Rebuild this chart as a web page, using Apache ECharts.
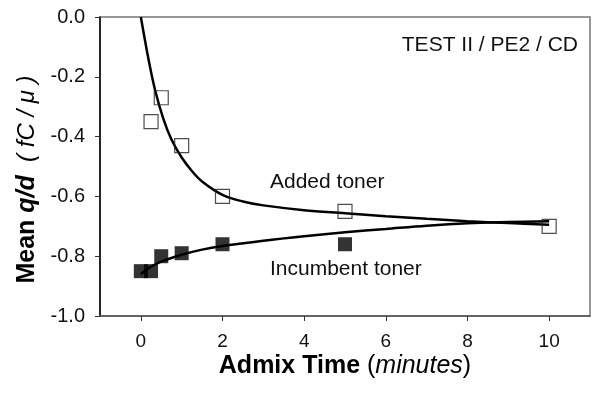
<!DOCTYPE html>
<html>
<head>
<meta charset="utf-8">
<script src="https://cdn.jsdelivr.net/npm/echarts@6/dist/echarts.min.js"></script>
<style>
  html, body { margin: 0; padding: 0; background: #fff; }
  #main { width: 592px; height: 394px; }
</style>
</head>
<body>
<div id="main"></div>
<script>
// measured points (minutes, fC/um)
const addedX = [0.25, 0.5, 1, 2, 5, 10];
const addedY = [-0.35, -0.27, -0.43, -0.60, -0.65, -0.70];
const incumbentX = [0, 0.25, 0.5, 1, 2, 5];
const incumbentY = [-0.85, -0.85, -0.80, -0.79, -0.76, -0.76];

// fitted curves
const addedFitX = [0, 0.2, 0.35, 0.55, 0.75, 1, 1.25, 1.5, 2, 2.5, 3, 4, 5, 6, 7, 8, 9, 10];
const addedFitY = [0.0, -0.15, -0.245, -0.34, -0.41, -0.47, -0.515, -0.55, -0.595, -0.617, -0.630, -0.646, -0.656, -0.666, -0.675, -0.683, -0.689, -0.695];
const incumbentFitX = [0, 0.25, 0.5, 1, 1.5, 2, 3, 4, 5, 6, 7, 8, 9, 10];
const incumbentFitY = [-0.86, -0.835, -0.818, -0.795, -0.778, -0.766, -0.748, -0.733, -0.72, -0.709, -0.698, -0.690, -0.686, -0.683];

const xTicks = [0, 2, 4, 6, 8, 10];

const font = 'Liberation Sans, Arial, sans-serif';
const zip = (xs, ys) => xs.map((x, i) => [x, ys[i]]);

const chart = echarts.init(document.getElementById('main'));

const option = {
  animation: false,
  textStyle: { fontFamily: font },
  grid: {
    left: 100, right: 2, top: 17, bottom: 78,
    show: true, borderColor: '#777', borderWidth: 1.5
  },
  xAxis: {
    type: 'value',
    min: -1, max: 11,
    splitLine: { show: false },
    axisLine: { onZero: false, lineStyle: { color: '#555', width: 1.5 } },
    axisTick: { customValues: xTicks, length: 5, lineStyle: { color: '#333' } },
    axisLabel: { customValues: xTicks, fontSize: 19, color: '#111', margin: 16, fontFamily: font },
    name: '{b|Admix Time }{n|(}{i|minutes}{n|)}',
    nameLocation: 'middle',
    nameGap: 38,
    nameMoveOverlap: false,
    nameTextStyle: {
      rich: {
        b: { fontSize: 25, fontWeight: 'bold', color: '#000', fontFamily: font },
        n: { fontSize: 25, color: '#000', fontFamily: font },
        i: { fontSize: 25, fontStyle: 'italic', color: '#000', fontFamily: font }
      }
    }
  },
  yAxis: {
    type: 'value',
    min: -1, max: 0, interval: 0.2,
    splitLine: { show: false },
    axisLine: { onZero: false, lineStyle: { color: '#000', width: 1.5 } },
    axisTick: { length: 5, lineStyle: { color: '#333' } },
    axisLabel: {
      fontSize: 20, color: '#111', margin: 15, fontFamily: font,
      formatter: v => v.toFixed(1)
    },
    name: '{b|Mean }{bi|q/d}{i|  ( fC / \u03bc )}',
    nameLocation: 'middle',
    nameGap: 60,
    nameRotate: 90,
    nameTextStyle: {
      padding: [0, 26, 0, 0],
      rich: {
        b: { fontSize: 25, fontWeight: 'bold', color: '#000', fontFamily: font },
        bi: { fontSize: 25, fontWeight: 'bold', fontStyle: 'italic', color: '#000', fontFamily: font },
        i: { fontSize: 24, fontStyle: 'italic', color: '#000', fontFamily: font }
      }
    }
  },
  series: [
    {
      type: 'line',
      data: zip(addedFitX, addedFitY),
      smooth: 0.35,
      showSymbol: false,
      lineStyle: { color: '#000', width: 2.5 },
      z: 2
    },
    {
      type: 'line',
      data: zip(incumbentFitX, incumbentFitY),
      smooth: 0.35,
      showSymbol: false,
      lineStyle: { color: '#000', width: 2.5 },
      z: 2
    },
    {
      type: 'scatter',
      data: zip(addedX, addedY),
      symbol: 'rect', symbolSize: 14,
      itemStyle: { color: 'rgba(255,255,255,0)', borderColor: '#222', borderWidth: 1.2 },
      z: 3
    },
    {
      type: 'scatter',
      data: zip(incumbentX, incumbentY),
      symbol: 'rect', symbolSize: 14,
      itemStyle: { color: '#000' },
      z: 3
    }
  ],
  graphic: [
    { type: 'text', right: 14, top: 35, style: { text: 'TEST II / PE2 / CD', font: '21px ' + font, fill: '#111' } },
    { type: 'text', left: 270, top: 172, style: { text: 'Added toner', font: '21px ' + font, fill: '#111' } },
    { type: 'text', left: 270, top: 259, style: { text: 'Incumbent toner', font: '21px ' + font, fill: '#111' } }
  ]
};

chart.setOption(option);
</script>
</body>
</html>
